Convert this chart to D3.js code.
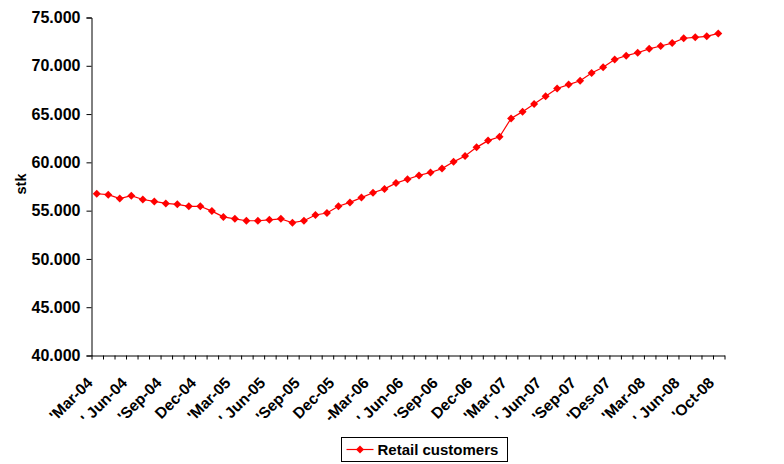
<!DOCTYPE html>
<html>
<head>
<meta charset="utf-8">
<script src="https://cdn.jsdelivr.net/npm/d3@7"></script>
<style>
  body { margin: 0; background: #fff; }
  svg text { font-family: "Liberation Sans", Arial, sans-serif; font-weight: bold; fill: #000; }
</style>
</head>
<body>
<script>
// monthly retail customer counts, one value per category
var customers = [56700, 56600, 56200, 56500, 56100, 55900, 55700, 55600, 55400, 55400,
                 54900, 54300, 54100, 53900, 53900, 54000, 54100, 53700, 53900, 54500,
                 54700, 55400, 55800, 56300, 56800, 57200, 57800, 58200, 58600, 58900,
                 59300, 60000, 60600, 61500, 62200, 62600, 64500, 65200, 66000, 66800,
                 67600, 68000, 68400, 69200, 69800, 70600, 71000, 71300, 71700, 72000,
                 72300, 72800, 72900, 73000, 73300];

// labels shown on every third category
var tickLabels = ["'Mar-04", "' Jun-04", "'Sep-04", "Dec-04", "'Mar-05", "' Jun-05", "'Sep-05",
                  "Dec-05", "-Mar-06", "' Jun-06", "'Sep-06", "Dec-06", "'Mar-07", "' Jun-07",
                  "'Sep-07", "'Des-07", "'Mar-08", "' Jun-08", "'Oct-08"];
var labelStep = 3;

var yTicks = [40000, 45000, 50000, 55000, 60000, 65000, 70000, 75000];
var seriesName = "Retail customers";

var width = 784, height = 464;
// plot box (note: "top" is a reserved window property, so use other names)
var plotLeft = 91, plotRight = 724, plotTop = 17, plotBottom = 355;

var svg = d3.select("body").append("svg")
    .attr("width", width)
    .attr("height", height);

// category positions
var x = d3.scaleBand()
    .domain(d3.range(customers.length))
    .range([plotLeft, plotRight]);

// category boundaries for the tick marks
var xb = d3.scaleLinear()
    .domain([0, customers.length])
    .range([plotLeft, plotRight]);

var y = d3.scaleLinear()
    .domain([40000, 75000])
    .range([plotBottom, plotTop]);

// y axis, numbers with a dot as thousands separator
var yAxis = svg.append("g")
    .attr("transform", "translate(" + (plotLeft + 0.5) + ",0.5)")
    .call(d3.axisLeft(y).tickValues(yTicks).tickSize(5).tickPadding(6)
        .tickFormat(function(d) { return d3.format(",.0f")(d).replace(",", ".") ; }));
yAxis.selectAll("text").style("font-size", "16px");
yAxis.selectAll("line, .domain").attr("stroke", "#000");

// x axis: ticks at category boundaries, labels below
var xAxis = svg.append("g")
    .attr("transform", "translate(0.5," + (plotBottom + 0.5) + ")")
    .call(d3.axisBottom(xb).tickValues(d3.range(customers.length + 1))
        .tickSize(4).tickSizeOuter(0).tickFormat(""));
xAxis.selectAll("line, .domain").attr("stroke", "#000");

svg.append("g")
    .selectAll("text")
    .data(tickLabels)
    .enter().append("text")
    .attr("text-anchor", "end")
    .style("font-size", "15.5px")
    .attr("transform", function(d, i) {
        var cx = x(i * labelStep) + x.bandwidth() / 2;
        return "translate(" + (cx - 7) + "," + (plotBottom + 25) + ") rotate(-45)";
    })
    .attr("dy", "0.35em")
    .text(function(d) { return d; });

// y axis title
svg.append("text")
    .attr("transform", "translate(26,184) rotate(-90)")
    .attr("text-anchor", "middle")
    .style("font-size", "14.5px")
    .text("stk");

// the series line
var line = d3.line()
    .x(function(d, i) { return x(i) + x.bandwidth() / 2; })
    .y(function(d) { return y(d); });

svg.append("path")
    .datum(customers)
    .attr("fill", "none")
    .attr("stroke", "#ff0000")
    .attr("stroke-width", 1.2)
    .attr("d", line);

var diamond = "M0,-4L4,0L0,4L-4,0Z";

svg.append("g")
    .selectAll("path")
    .data(customers)
    .enter().append("path")
    .attr("d", diamond)
    .attr("fill", "#ff0000")
    .attr("transform", function(d, i) {
        return "translate(" + (x(i) + x.bandwidth() / 2) + "," + y(d) + ")";
    });

// legend
var legend = svg.append("g").attr("transform", "translate(341.5,437.5)");
legend.append("rect")
    .attr("width", 166)
    .attr("height", 24)
    .attr("fill", "#fff")
    .attr("stroke", "#000")
    .attr("stroke-width", 1);
legend.append("line")
    .attr("x1", 5).attr("x2", 32)
    .attr("y1", 12).attr("y2", 12)
    .attr("stroke", "#ff0000")
    .attr("stroke-width", 1.2);
legend.append("path")
    .attr("d", diamond)
    .attr("fill", "#ff0000")
    .attr("transform", "translate(18.5,12)");
legend.append("text")
    .attr("x", 36)
    .attr("y", 12)
    .attr("dy", "0.35em")
    .style("font-size", "15px")
    .text(seriesName);
</script>
</body>
</html>
